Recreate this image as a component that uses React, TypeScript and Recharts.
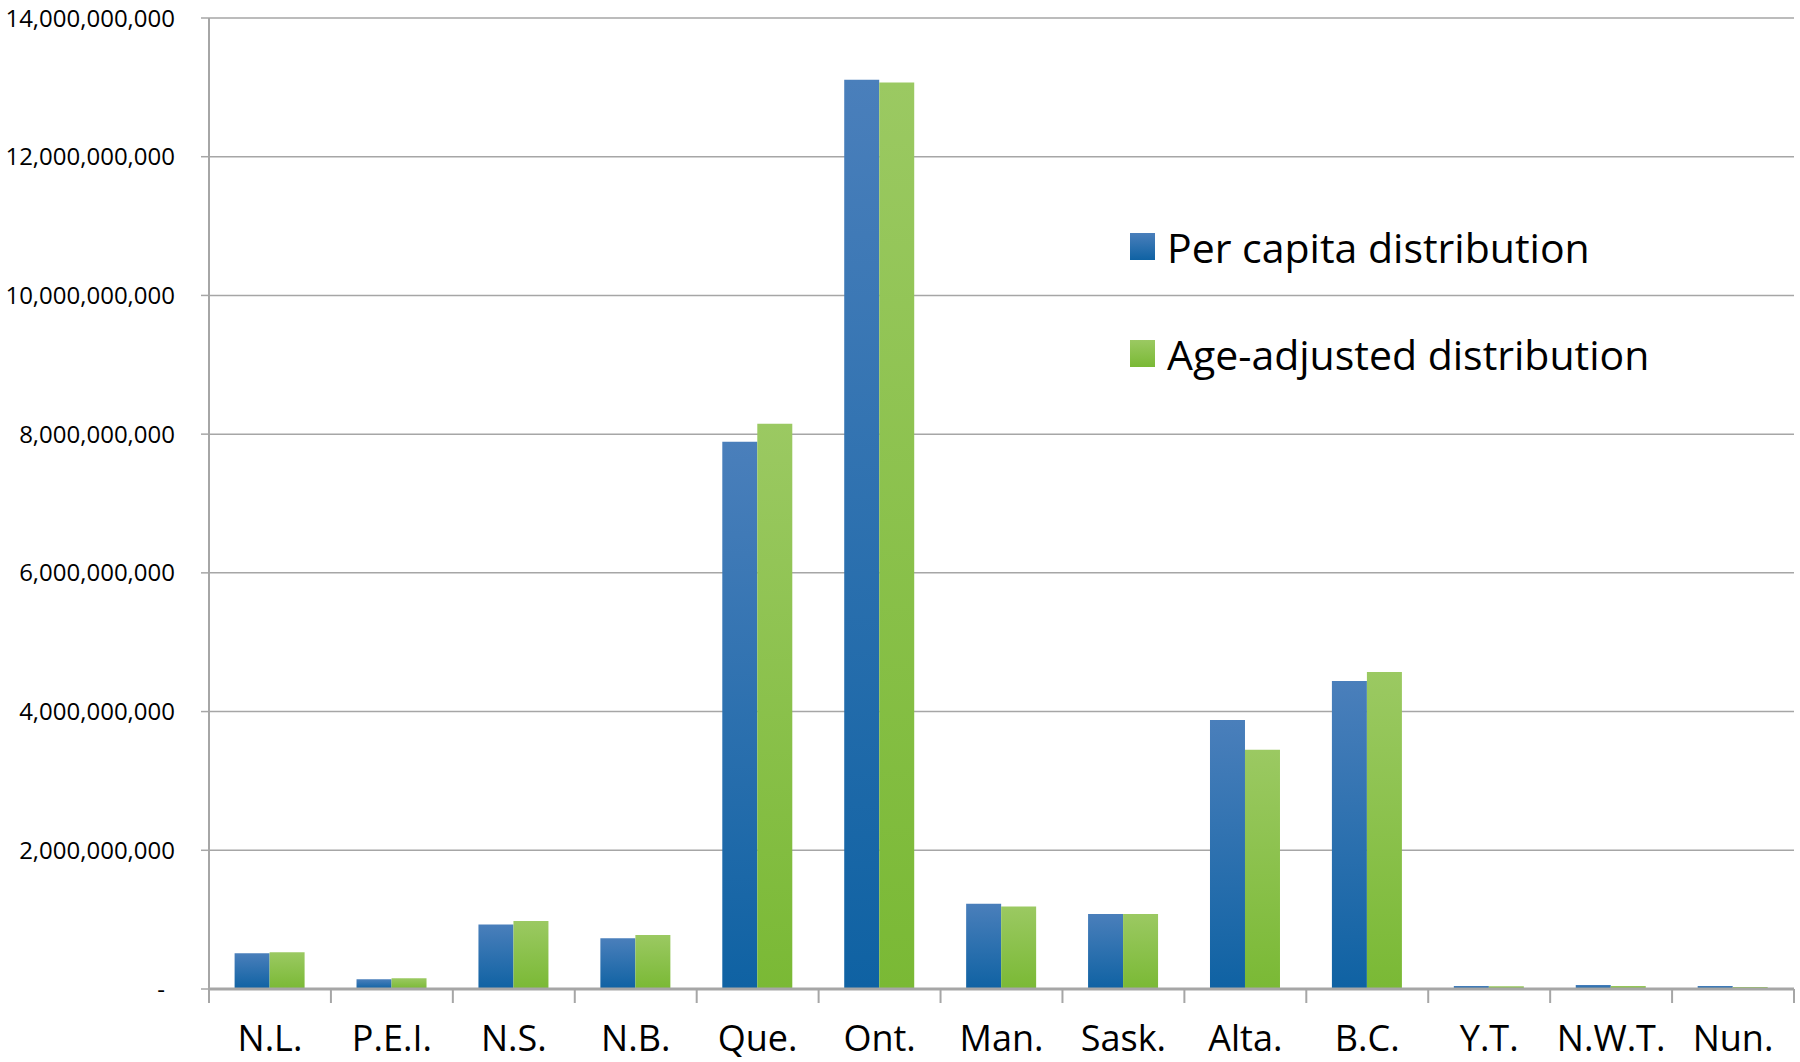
import React from 'react';
import { BarChart, Bar, XAxis, YAxis, CartesianGrid, Legend } from 'recharts';

const provinces = ['N.L.', 'P.E.I.', 'N.S.', 'N.B.', 'Que.', 'Ont.', 'Man.', 'Sask.', 'Alta.', 'B.C.', 'Y.T.', 'N.W.T.', 'Nun.'];
const perCapita = [0.515e9, 0.14e9, 0.93e9, 0.73e9, 7.89e9, 13.11e9, 1.23e9, 1.08e9, 3.88e9, 4.44e9, 0.043e9, 0.058e9, 0.045e9];
const ageAdjusted = [0.53e9, 0.155e9, 0.98e9, 0.78e9, 8.15e9, 13.07e9, 1.19e9, 1.08e9, 3.45e9, 4.57e9, 0.04e9, 0.045e9, 0.03e9];
const yTicks = [0, 2e9, 4e9, 6e9, 8e9, 10e9, 12e9, 14e9];
const seriesNames = ['Per capita distribution', 'Age-adjusted distribution'];

const data = provinces.map((p, i) => ({ name: p, perCapita: perCapita[i], ageAdjusted: ageAdjusted[i] }));

const FONT = '"Open Sans", sans-serif';
const GRID = '#a6a6a6';

const fmt = (v: number) => (v === 0 ? '-' : v.toLocaleString('en-US'));

const YTick = (props: any) => {
  const { x, y, payload } = props;
  const isZero = payload.value === 0;
  return (
    <text x={isZero ? x - 10 : x} y={y} dy="0.36em" textAnchor="end" fontFamily={FONT} fontSize={24} fill="#000">
      {fmt(payload.value)}
    </text>
  );
};

const XTick = (props: any) => {
  const { x, y, payload, width, visibleTicksCount, index } = props;
  const bw = width / visibleTicksCount;
  const left = x - bw / 2;
  const right = x + bw / 2;
  return (
    <g>
      <line x1={left} x2={left} y1={y - 14} y2={y} stroke={GRID} strokeWidth={2} />
      {index === visibleTicksCount - 1 && <line x1={right} x2={right} y1={y - 14} y2={y} stroke={GRID} strokeWidth={2} />}
      <text x={x} y={y + 48} textAnchor="middle" fontFamily={FONT} fontSize={36} fill="#000">
        {payload.value}
      </text>
    </g>
  );
};

const LegendContent = () => {
  const swatches = [
    'linear-gradient(#4a7fbb, #0f62a3)',
    'linear-gradient(#9bc962, #7ab935)',
  ];
  return (
    <div style={{ fontFamily: FONT }}>
      {seriesNames.map((n, i) => (
        <div key={n} style={{ display: 'flex', alignItems: 'center', height: 107 }}>
          <div style={{ width: 25, height: 27, background: swatches[i], marginRight: 12 }} />
          <span style={{ fontSize: 41, color: '#000', whiteSpace: 'nowrap' }}>{n}</span>
        </div>
      ))}
    </div>
  );
};

export default function App() {
  return (
    <div style={{ position: 'absolute', left: 0, top: 0, width: 1800, height: 1062, background: '#fff' }}>
      <BarChart
        width={1800}
        height={1062}
        data={data}
        margin={{ top: 18, right: 6, left: 0, bottom: 0 }}
        barCategoryGap="21%"
        barGap={0}
      >
        <defs>
          <linearGradient id="gBlue" x1="0" y1="0" x2="0" y2="1">
            <stop offset="0%" stopColor="#4a7fbb" />
            <stop offset="100%" stopColor="#0f62a3" />
          </linearGradient>
          <linearGradient id="gGreen" x1="0" y1="0" x2="0" y2="1">
            <stop offset="0%" stopColor="#9bc962" />
            <stop offset="100%" stopColor="#7ab935" />
          </linearGradient>
        </defs>
        <CartesianGrid vertical={false} stroke={GRID} strokeWidth={1.5} />
        <XAxis
          dataKey="name"
          height={73}
          interval={0}
          tickSize={14}
          tickMargin={0}
          tickLine={false}
          axisLine={{ stroke: GRID, strokeWidth: 3 }}
          tick={<XTick />}
        />
        <YAxis
          width={209}
          domain={[0, 14e9]}
          ticks={yTicks}
          interval={0}
          tickSize={8}
          tickMargin={26}
          tickLine={{ stroke: GRID, strokeWidth: 1.5 }}
          axisLine={{ stroke: GRID, strokeWidth: 2 }}
          tick={<YTick />}
        />
        <Legend
          layout="horizontal"
          verticalAlign="middle"
          align="center"
          wrapperStyle={{ left: 1130, top: 193, width: 640 }}
          content={<LegendContent />}
        />
        <Bar dataKey="perCapita" name={seriesNames[0]} fill="url(#gBlue)" isAnimationActive={false} />
        <Bar dataKey="ageAdjusted" name={seriesNames[1]} fill="url(#gGreen)" isAnimationActive={false} />
      </BarChart>
    </div>
  );
}
